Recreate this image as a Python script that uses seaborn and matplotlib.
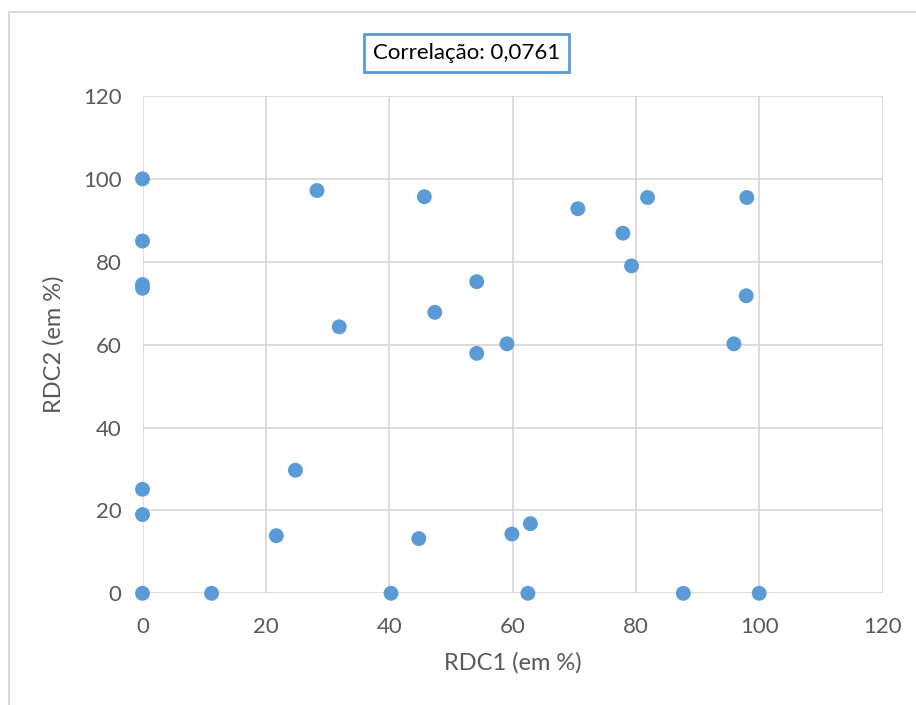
import matplotlib
matplotlib.use("Agg")
import matplotlib.pyplot as plt
import seaborn as sns
import pandas as pd
from matplotlib.lines import Line2D

# RDC1 / RDC2 percentages
rdc1 = [0, 0, 0, 0, 0, 0, 0,
        28.3, 31.9, 24.8, 21.7, 11.2, 40.3,
        45.7, 70.6, 77.9, 81.9, 79.3, 54.2, 47.4, 59.1, 54.2,
        98.0, 97.9, 95.9,
        44.8, 59.9, 62.9, 62.5, 87.7, 100.0]
rdc2 = [100, 85, 74.5, 73.6, 25.1, 19.0, 0,
        97.2, 64.3, 29.7, 13.9, 0, 0,
        95.7, 92.8, 86.9, 95.5, 79.0, 75.2, 67.8, 60.2, 57.9,
        95.5, 71.8, 60.2,
        13.2, 14.3, 16.8, 0, 0, 0]
ticks = [0, 20, 40, 60, 80, 100, 120]
corr_label = "Correlação: 0,0761"
x_title = "RDC1 (em %)"
y_title = "RDC2 (em %)"

df = pd.DataFrame({"RDC1": rdc1, "RDC2": rdc2})

sns.set_style("white")
plt.rcParams["font.family"] = ["Lato", "DejaVu Sans"]

grid_c = "#D9D9D9"
text_c = "#595959"
blue = "#5B9BD5"

fig = plt.figure(figsize=(9.16, 7.05), dpi=100)
ax = fig.add_axes([142.5 / 916, 1 - 593.3 / 705, 740 / 916, 497.3 / 705])

sns.scatterplot(data=df, x="RDC1", y="RDC2", ax=ax, color=blue, s=115,
                edgecolor="none", zorder=3, clip_on=False)

ax.set_xlim(0, 120)
ax.set_ylim(0, 120)
ax.set_xticks(ticks)
ax.set_yticks(ticks)
ax.grid(True, color=grid_c, linewidth=1.3)
for s in ax.spines.values():
    s.set_visible(False)
ax.tick_params(length=0, labelsize=16, colors=text_c)
ax.tick_params(axis="x", pad=17)
ax.tick_params(axis="y", pad=15)
ax.set_xlabel(x_title, fontsize=17, color=text_c, labelpad=11)
ax.set_ylabel(y_title, fontsize=17, color=text_c, labelpad=13)

# correlation box
fig.text(466.5 / 916, 1 - 53 / 705, corr_label, ha="center", va="center",
         fontsize=16, color="black",
         bbox=dict(boxstyle="square,pad=0.42", facecolor="white",
                   edgecolor=blue, linewidth=2))

# chart area border (left and top visible)
fig.add_artist(Line2D([9 / 916, 9 / 916], [0, 1 - 12 / 705],
                      transform=fig.transFigure, color=grid_c, linewidth=1.5))
fig.add_artist(Line2D([9 / 916, 1], [1 - 12 / 705, 1 - 12 / 705],
                      transform=fig.transFigure, color=grid_c, linewidth=1.5))

fig.savefig("out.png", dpi=100, facecolor="white")
